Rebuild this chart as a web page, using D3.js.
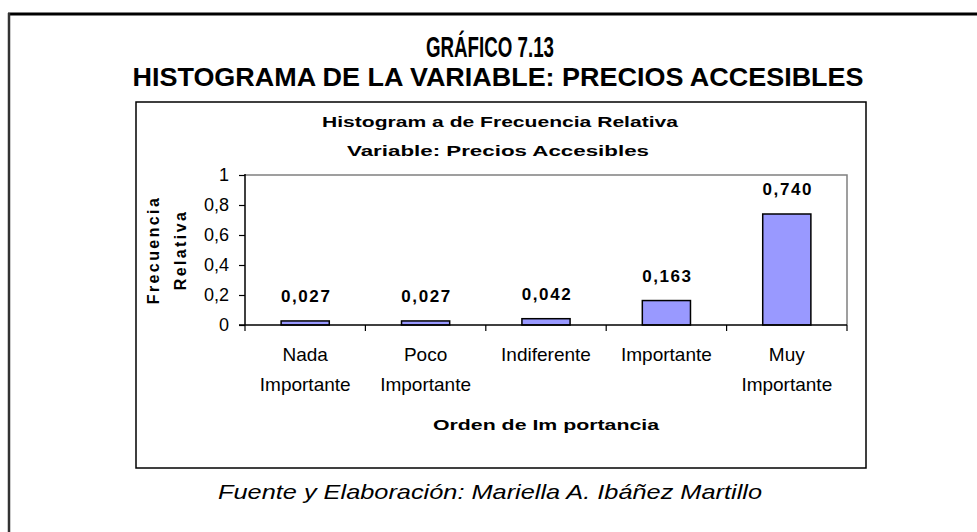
<!DOCTYPE html>
<html><head><meta charset="utf-8">
<script src="https://cdn.jsdelivr.net/npm/d3@7"></script>
<style>
html,body{margin:0;padding:0;background:#fff;}
svg{display:block;}
text{font-family:"Liberation Sans",Arial,sans-serif;fill:#000;}
</style></head><body>
<svg id="c" width="977" height="532"></svg>
<script>
const categories = [["Nada","Importante"],["Poco","Importante"],["Indiferente"],["Importante"],["Muy","Importante"]];
const values = [0.027, 0.027, 0.042, 0.163, 0.740];
const valueLabels = ["0,027","0,027","0,042","0,163","0,740"];
const yTicks = [0, 0.2, 0.4, 0.6, 0.8, 1];
const yTickLabels = ["0","0,2","0,4","0,6","0,8","1"];
const mainTitle = "GRÁFICO 7.13";
const subTitle = "HISTOGRAMA DE LA VARIABLE: PRECIOS ACCESIBLES";
const chartTitle1 = "Histogram a de Frecuencia Relativa";
const chartTitle2 = "Variable: Precios Accesibles";
const yTitle = ["Frecuencia","Relativa"];
const xTitle = "Orden de Im portancia";
const source = "Fuente y Elaboración: Mariella A. Ibáñez Martillo";

const svg = d3.select("#c");
const narrow = '"Liberation Sans Narrow","Arial Narrow","Liberation Sans",Arial,sans-serif';

function fit(sel, w){
  const n = sel.node(); const L = n.getComputedTextLength();
  if (L>0) sel.attr("textLength", w).attr("lengthAdjust","spacingAndGlyphs");
}

// outer frame (top + left)
svg.append("line").attr("x1",8).attr("x2",977).attr("y1",14).attr("y2",14).attr("stroke","#000").attr("stroke-width",3);
svg.append("line").attr("x1",9).attr("x2",9).attr("y1",13).attr("y2",532).attr("stroke","#333").attr("stroke-width",2.5);

// titles
const t1 = svg.append("text").attr("x",490).attr("y",57).attr("text-anchor","middle")
  .style("font-family",narrow).style("font-weight","bold").style("font-size","29px").text(mainTitle);
fit(t1,128);
const t2 = svg.append("text").attr("x",498).attr("y",86).attr("text-anchor","middle")
  .style("font-family",narrow).style("font-weight","bold").style("font-size","25px").text(subTitle);
fit(t2,731);

// chart box
svg.append("rect").attr("x",136).attr("y",102).attr("width",730).attr("height",366)
  .attr("fill","#fff").attr("stroke","#000").attr("stroke-width",1.5);

const ct1 = svg.append("text").attr("x",500).attr("y",127).attr("text-anchor","middle")
  .style("font-weight","bold").style("font-size","15px").text(chartTitle1);
fit(ct1,356);
const ct2 = svg.append("text").attr("x",498).attr("y",156).attr("text-anchor","middle")
  .style("font-weight","bold").style("font-size","15px").text(chartTitle2);
fit(ct2,302);

// plot
const L=245, R=847, T=175, B=325;
const x = d3.scaleBand().domain(d3.range(values.length)).range([L,R]).paddingInner(0.6).paddingOuter(0.3);
const xb = d3.scaleBand().domain(d3.range(values.length)).range([L,R]);
const y = d3.scaleLinear().domain([0,1]).range([B,T]);

// plot border (gray top/right)
svg.append("path").attr("d",`M${L},${T}H${R}V${B}`).attr("fill","none").attr("stroke","#808080").attr("stroke-width",1.5);

// bars
svg.selectAll("rect.bar").data(values).join("rect").attr("class","bar")
  .attr("x",(d,i)=>x(i)).attr("width",x.bandwidth())
  .attr("y",d=>y(d)).attr("height",d=>B-y(d))
  .attr("fill","#9999ff").attr("stroke","#000").attr("stroke-width",1.5);

// value labels
svg.selectAll("text.vl").data(values).join("text").attr("class","vl")
  .attr("x",(d,i)=>x(i)+x.bandwidth()/2+1).attr("y",d=>y(d)-19)
  .attr("text-anchor","middle").style("font-weight","bold").style("font-size","17px")
  .style("letter-spacing","1.6px").text((d,i)=>valueLabels[i]);

// y axis
const ya = d3.axisLeft(y).tickValues(yTicks).tickSize(6).tickPadding(10).tickFormat((d,i)=>yTickLabels[i]);
const yg = svg.append("g").attr("transform",`translate(${L},0)`).call(ya);
yg.select(".domain").attr("stroke","#000").attr("stroke-width",1.5).attr("d",`M0,${T-1}V${B}`);
yg.selectAll(".tick line").attr("stroke","#000").attr("stroke-width",1.2);
yg.selectAll(".tick text").style("font-size","18px").style("font-family",'"Liberation Sans",Arial,sans-serif');

// x axis
svg.append("line").attr("x1",L-6).attr("x2",R).attr("y1",B).attr("y2",B).attr("stroke","#000").attr("stroke-width",1.5);
const bounds = d3.range(values.length+1).map(i=> i<values.length ? xb(i) : R);
svg.selectAll("line.xt").data(bounds).join("line").attr("class","xt")
  .attr("x1",d=>d).attr("x2",d=>d).attr("y1",B).attr("y2",B+6).attr("stroke","#000").attr("stroke-width",1.2);

// category labels
categories.forEach((lines,i)=>{
  lines.forEach((s,j)=>{
    svg.append("text").attr("x",xb(i)+xb.bandwidth()/2).attr("y",361+j*30).attr("text-anchor","middle")
      .style("font-family",narrow).style("font-size","19px").text(s);
  });
});

// axis titles
const xt = svg.append("text").attr("x",546).attr("y",430).attr("text-anchor","middle")
  .style("font-weight","bold").style("font-size","15px").text(xTitle);
fit(xt,226);
yTitle.forEach((s,j)=>{
  svg.append("text").attr("transform",`translate(${159+j*27},250) rotate(-90)`).attr("text-anchor","middle")
    .style("font-weight","bold").style("font-size","16px").style("letter-spacing","2.4px").text(s);
});

// source
const src = svg.append("text").attr("x",490).attr("y",499).attr("text-anchor","middle")
  .style("font-style","italic").style("font-size","21px").text(source);
fit(src,544);
</script>
</body></html>
